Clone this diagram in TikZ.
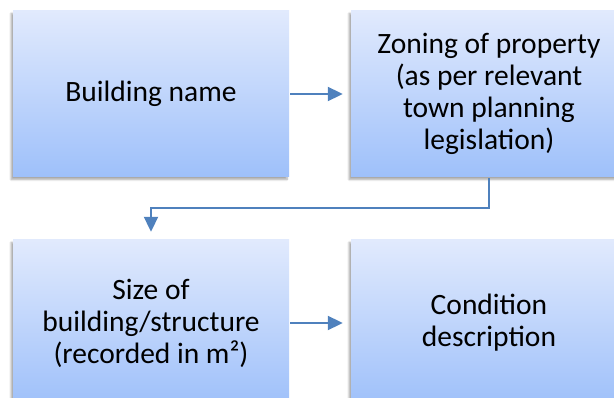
\documentclass[tikz,border=0pt]{standalone}
\usepackage{fontspec}
\setmainfont{Carlito}
\usetikzlibrary{arrows.meta,shadows.blur}
\definecolor{boxtop}{RGB}{225,234,253}
\definecolor{boxbottom}{RGB}{158,192,250}
\definecolor{linkblue}{RGB}{79,129,189}
\tikzset{
  stepbox/.style={minimum width=276pt, minimum height=166pt, inner sep=0pt,
    top color=boxtop, bottom color=boxbottom, draw=none,
    blur shadow={shadow xshift=-2pt, shadow yshift=-2.5pt, shadow blur steps=6,
      shadow blur extra rounding=0pt, shadow opacity=35},
    align=center, font=\fontsize{29.5}{32}\selectfont},
  link/.style={draw=linkblue, line width=2pt,
    -{Triangle[length=15pt,width=14pt]}, shorten >=8pt, shorten <=1pt}
}
\begin{document}
\begin{tikzpicture}[x=1pt,y=1pt]
  \useasboundingbox (0,0) rectangle (614,397);
  \clip (0,0) rectangle (614,397);
  % four boxes, two rows
  \node[stepbox] (name) at (151,303) {Building name};
  \node[stepbox] (zone) at (489,303) {Zoning of property\\(as per relevant\\town planning\\legislation)};
  \node[stepbox] (size) at (151,74) {Size of\\building/structure\\(recorded in m²)};
  \node[stepbox] (cond) at (489,74) {Condition\\description};
  % connectors
  \draw[link] (name.east) -- (zone.west);
  \draw[link] (zone.south) -- ++(0,-31) -| (size.north);
  \draw[link] (size.east) -- (cond.west);
\end{tikzpicture}
\end{document}
